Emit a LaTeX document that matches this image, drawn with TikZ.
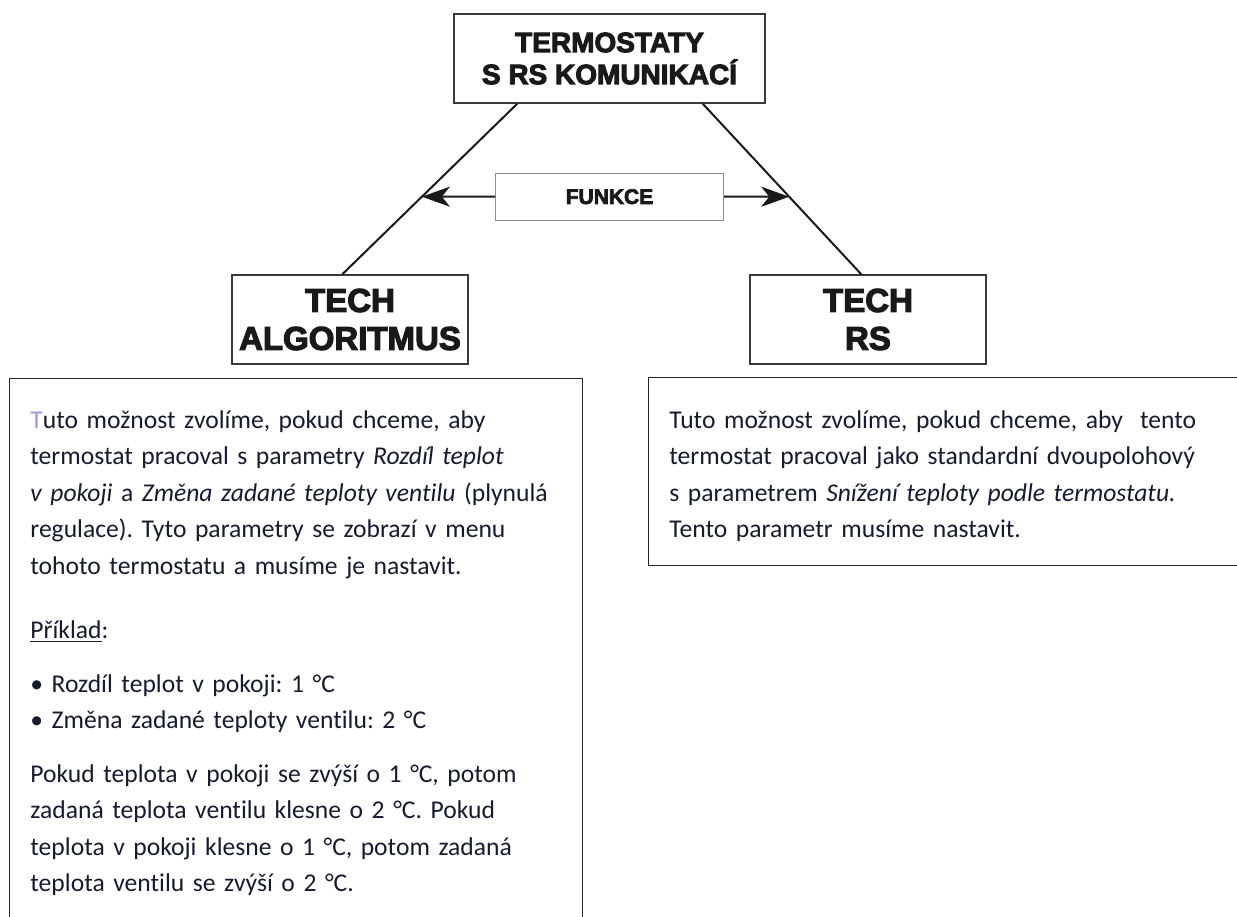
\documentclass[tikz,border=0pt]{standalone}
\usepackage{fontspec}
\usepackage{xcolor}
\usepackage{tikz}
\setmainfont{Carlito}[Ligatures=NoCommon]
\newfontfamily\headfont[BoldFeatures={FakeBold=3.5}]{Liberation Sans}
\usetikzlibrary{arrows.meta,positioning,calc}
\frenchspacing

\definecolor{textnavy}{HTML}{161B2E}
\definecolor{firstT}{HTML}{9A9AD6}
\definecolor{framegray}{HTML}{3A3A3A}
\definecolor{funkcegray}{HTML}{8C8C8C}

\begin{document}
\begin{tikzpicture}[
    x=0.5pt, y=-0.5pt,
    headbox/.style={rectangle, draw=framegray, line width=0.7pt, minimum width=118pt, minimum height=44.5pt, align=center, inner sep=0pt, text=black!90},
    funbox/.style={rectangle, draw=funkcegray, line width=0.5pt, minimum width=114pt, minimum height=23.5pt, inner sep=0pt, font=\headfont\bfseries\fontsize{10.5pt}{12pt}\selectfont, text=black!90},
    frame/.style={rectangle, draw=black!85, line width=0.6pt, anchor=north west, inner sep=0pt},
    bodytext/.style={anchor=north west, inner sep=0pt, align=left, text=textnavy, font=\fontsize{12.8pt}{18.25pt}\selectfont},
    link/.style={line width=1pt, black!90},
    arrow/.style={-{Stealth[length=14pt, width=10pt, inset=4pt]}, line width=1pt, black!90}
]
    \useasboundingbox (0,0) rectangle (1237,916);

    % Top box
    \node[headbox, minimum width=155.5pt, font=\headfont\bfseries\fontsize{14pt}{16pt}\selectfont] (rsbox) at (609.5,58.5) {TERMOSTATY\\S RS KOMUNIKACÍ};
    \node[funbox, below=34.5pt of rsbox] (funkce) {FUNKCE};

    % Choice boxes
    \node[headbox, font=\headfont\bfseries\fontsize{16.5pt}{19pt}\selectfont] (algohead) at (350,319.5) {TECH\\ALGORITMUS};
    \node[headbox, font=\headfont\bfseries\fontsize{16.5pt}{19pt}\selectfont] (rshead) at (868,319.5) {TECH\\RS};

    % Links
    \coordinate (lt) at ($(rsbox.south west)+(64,0)$);
    \coordinate (lb) at ($(algohead.north west)+(111,0)$);
    \coordinate (rt) at ($(rsbox.south east)+(-63,0)$);
    \coordinate (rb) at ($(rshead.north west)+(112,0)$);
    \draw[link] (lt) -- (lb);
    \draw[link] (rt) -- (rb);
    \coordinate (lhit) at (intersection of lt--lb and funkce.west--funkce.east);
    \coordinate (rhit) at (intersection of rt--rb and funkce.west--funkce.east);
    \draw[arrow] (funkce.west) -- (lhit);
    \draw[arrow] (funkce.east) -- (rhit);

    % Description boxes
    \node[frame, minimum width=286.5pt, minimum height=300pt] (algoframe) at (9,378) {};
    \node[frame, minimum width=301pt, minimum height=94pt] (rsframe) at (648,377) {};

    \node[bodytext, text width=282pt] (algotext) at ($(algoframe.north west)+(21,26)$) {%
        \rule{0pt}{12pt}{\color{firstT}T}uto možnost zvolíme, pokud chceme, aby\\
        termostat pracoval s parametry \textit{Rozdíl teplot}\\
        \textit{v pokoji} a \textit{Změna zadané teploty ventilu} (plynulá\\
        regulace). Tyto parametry se zobrazí v menu\\
        tohoto termostatu a musíme je nastavit.\\[14pt]
        \underline{Příklad}:\\[8.5pt]
        • Rozdíl teplot v pokoji: 1 °C\\
        • Změna zadané teploty ventilu: 2 °C\\[8.5pt]
        Pokud teplota v pokoji se zvýší o 1 °C, potom\\
        zadaná teplota ventilu klesne o 2 °C. Pokud\\
        teplota v pokoji klesne o 1 °C, potom zadaná\\
        teplota ventilu se zvýší o 2 °C.};
    \node[bodytext, text width=285pt] (rstext) at ($(rsframe.north west)+(21,27)$) {%
        \rule{0pt}{12pt}Tuto možnost zvolíme, pokud chceme, aby\ \ tento\\
        termostat pracoval jako standardní dvoupolohový\\
        s parametrem \textit{Snížení teploty podle termostatu.}\\
        Tento parametr musíme nastavit.};
\end{tikzpicture}
\end{document}
